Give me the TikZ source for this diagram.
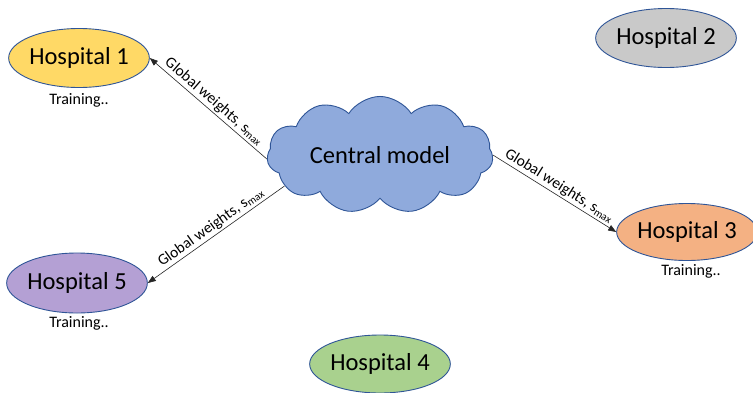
\documentclass[tikz,border=0pt]{standalone}
\usepackage{fontspec}
\setmainfont{Carlito}
\usetikzlibrary{shapes.geometric,shapes.symbols,arrows.meta}
\definecolor{edgeblue}{HTML}{2F5597}
\definecolor{cloudfill}{HTML}{8FAADC}
\definecolor{hospyellow}{HTML}{FFD966}
\definecolor{hospgray}{HTML}{C9C9C9}
\definecolor{hosporange}{HTML}{F4B183}
\definecolor{hospgreen}{HTML}{A9D18E}
\definecolor{hosppurple}{HTML}{B4A0D4}
\tikzset{
  hospital/.style={ellipse, draw=edgeblue, line width=0.9pt, font=\fontsize{24.5}{27}\selectfont,
    minimum width=138pt, minimum height=59pt, inner sep=0pt},
  status/.style={font=\fontsize{16}{18}\selectfont, inner sep=0pt},
  sendarrow/.style={draw=black!85, line width=0.6pt, -{Triangle[length=8pt,width=6pt]}},
  weightlabel/.style={font=\fontsize{15.5}{17}\selectfont, sloped, above, inner sep=2pt, midway}
}
\begin{document}
\begin{tikzpicture}[x=1pt,y=-1pt]
  \useasboundingbox (0,0) rectangle (753,392);
  \fill[white] (0,0) rectangle (753,392);

  % central server
  \node[cloud, cloud puffs=11, cloud puff arc=115, aspect=2.2, draw=edgeblue, line width=0.9pt,
        fill=cloudfill, minimum width=226pt, minimum height=101pt, inner sep=0pt,
        font=\fontsize{24.5}{27}\selectfont] (cloud) at (380,155) {Central model};

  % participating hospitals
  \node[hospital, fill=hospyellow] (h1) at (79,58) {Hospital 1};
  \node[hospital, fill=hospgray] (h2) at (666,38) {Hospital 2};
  \node[hospital, fill=hosporange, minimum width=130pt, minimum height=57pt] (h3) at (687,232) {Hospital 3};
  \node[hospital, fill=hospgreen, minimum width=136pt, minimum height=58pt] (h4) at (380,364) {Hospital 4};
  \node[hospital, fill=hosppurple, minimum width=140pt, minimum height=60pt] (h5) at (77,283) {Hospital 5};

  % training status
  \node[status] (t1) at (79,100) {Training..};
  \node[status] (t3) at (691,271) {Training..};
  \node[status] (t5) at (79,323) {Training..};

  % broadcast of the global model
  \draw[sendarrow] (cloud.182) -- node[weightlabel] {Global weights, s\textsubscript{max}} (h1.east);
  \draw[sendarrow] (cloud.198) -- node[weightlabel] {Global weights, s\textsubscript{max}} (h5.east);
  \draw[sendarrow] (cloud.east) -- node[weightlabel] {Global weights, s\textsubscript{max}} (h3.west);
\end{tikzpicture}
\end{document}
